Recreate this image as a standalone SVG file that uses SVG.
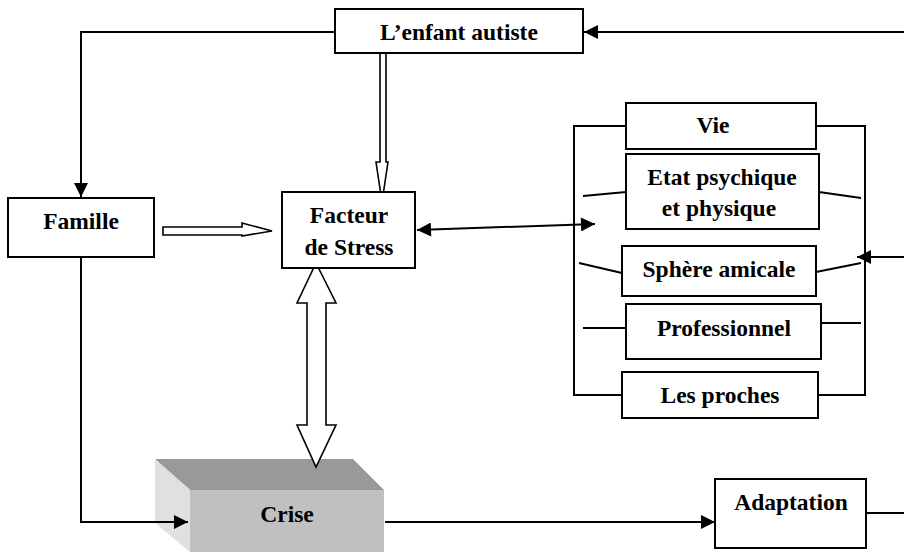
<svg xmlns="http://www.w3.org/2000/svg" width="904" height="552" viewBox="0 0 904 552">
<defs>
<style>
.box{fill:#fff;stroke:#000;stroke-width:2}
.ln{fill:none;stroke:#000;stroke-width:2}
.hollow{fill:#fff;stroke:#000;stroke-width:1.6;stroke-linejoin:miter}
text{font-family:"Liberation Serif","Times New Roman",serif;font-weight:bold;font-size:23.5px;text-anchor:middle;fill:#000}
</style>
<marker id="ah" viewBox="0 0 10 10" refX="10" refY="5" markerWidth="7.5" markerHeight="7" markerUnits="strokeWidth" orient="auto-start-reverse">
<path d="M0,0 L10,5 L0,10 Z" fill="#000"/>
</marker>
</defs>
<rect width="904" height="552" fill="#fff"/>

<g id="crise">
<polygon points="155,459 353,459 384,490 190,490" fill="#999"/>
<polygon points="155,459 190,490 190,552 155,523" fill="#e0e0e0"/>
<rect x="190" y="490" width="194" height="62" fill="#c0c0c0"/>
<text x="287" y="522">Crise</text>
</g>

<g id="connectors">
<path class="ln" d="M335,32 H81 V197" marker-end="url(#ah)"/>
<path class="ln" d="M904,32 H584" marker-end="url(#ah)"/>
<path class="hollow" d="M380,54 V162 H376 L382,202 L388,162 H386 V54"/>
<path class="hollow" d="M163,227 H242 V223 L272,231 L242,236 V235 H163 Z"/>
<path class="ln" d="M417,230 L595,224" marker-start="url(#ah)" marker-end="url(#ah)"/>
<path class="ln" d="M904,257 H857" marker-end="url(#ah)"/>
<path class="hollow" d="M316,263 L336,303 H326 V425 H336 L316,467 L297,425 H307 V303 H297 Z"/>
<path class="ln" d="M81,257 V522 H188" marker-end="url(#ah)"/>
<path class="ln" d="M385,522 H715" marker-end="url(#ah)"/>
<path class="ln" d="M866,513 H904"/>
<path class="ln" d="M626,126 H574 V395 H622 M816,126 H865 V395 H818"/>
<path class="ln" d="M583,196 L626,192 M819,192 L861,198 M579,263 L622,273 M816,272 L861,263 M583,328 H626 M816,323 H861"/>
</g>

<g id="enfant">
<rect class="box" x="335" y="9" width="248" height="44"/>
<text x="459" y="40">L’enfant autiste</text>
</g>
<g id="famille">
<rect class="box" x="8" y="198" width="146" height="59"/>
<text x="81" y="229">Famille</text>
</g>
<g id="facteur">
<rect class="box" x="282" y="192" width="133" height="76"/>
<text x="349" y="223">Facteur</text>
<text x="349" y="255">de Stress</text>
</g>
<g id="vie">
<rect class="box" x="626" y="103" width="190" height="46"/>
<text x="713" y="133">Vie</text>
</g>
<g id="etat">
<rect class="box" x="626" y="154" width="193" height="75"/>
<text x="722" y="185">Etat psychique</text>
<text x="719" y="216">et physique</text>
</g>
<g id="sphere">
<rect class="box" x="622" y="246" width="194" height="50"/>
<text x="719" y="277">Sphère amicale</text>
</g>
<g id="professionnel">
<rect class="box" x="626" y="304" width="195" height="55"/>
<text x="724" y="336">Professionnel</text>
</g>
<g id="proches">
<rect class="box" x="622" y="372" width="196" height="46"/>
<text x="720" y="403">Les proches</text>
</g>
<g id="adaptation">
<rect class="box" x="715" y="479" width="151" height="69"/>
<text x="791" y="510">Adaptation</text>
</g>
</svg>
